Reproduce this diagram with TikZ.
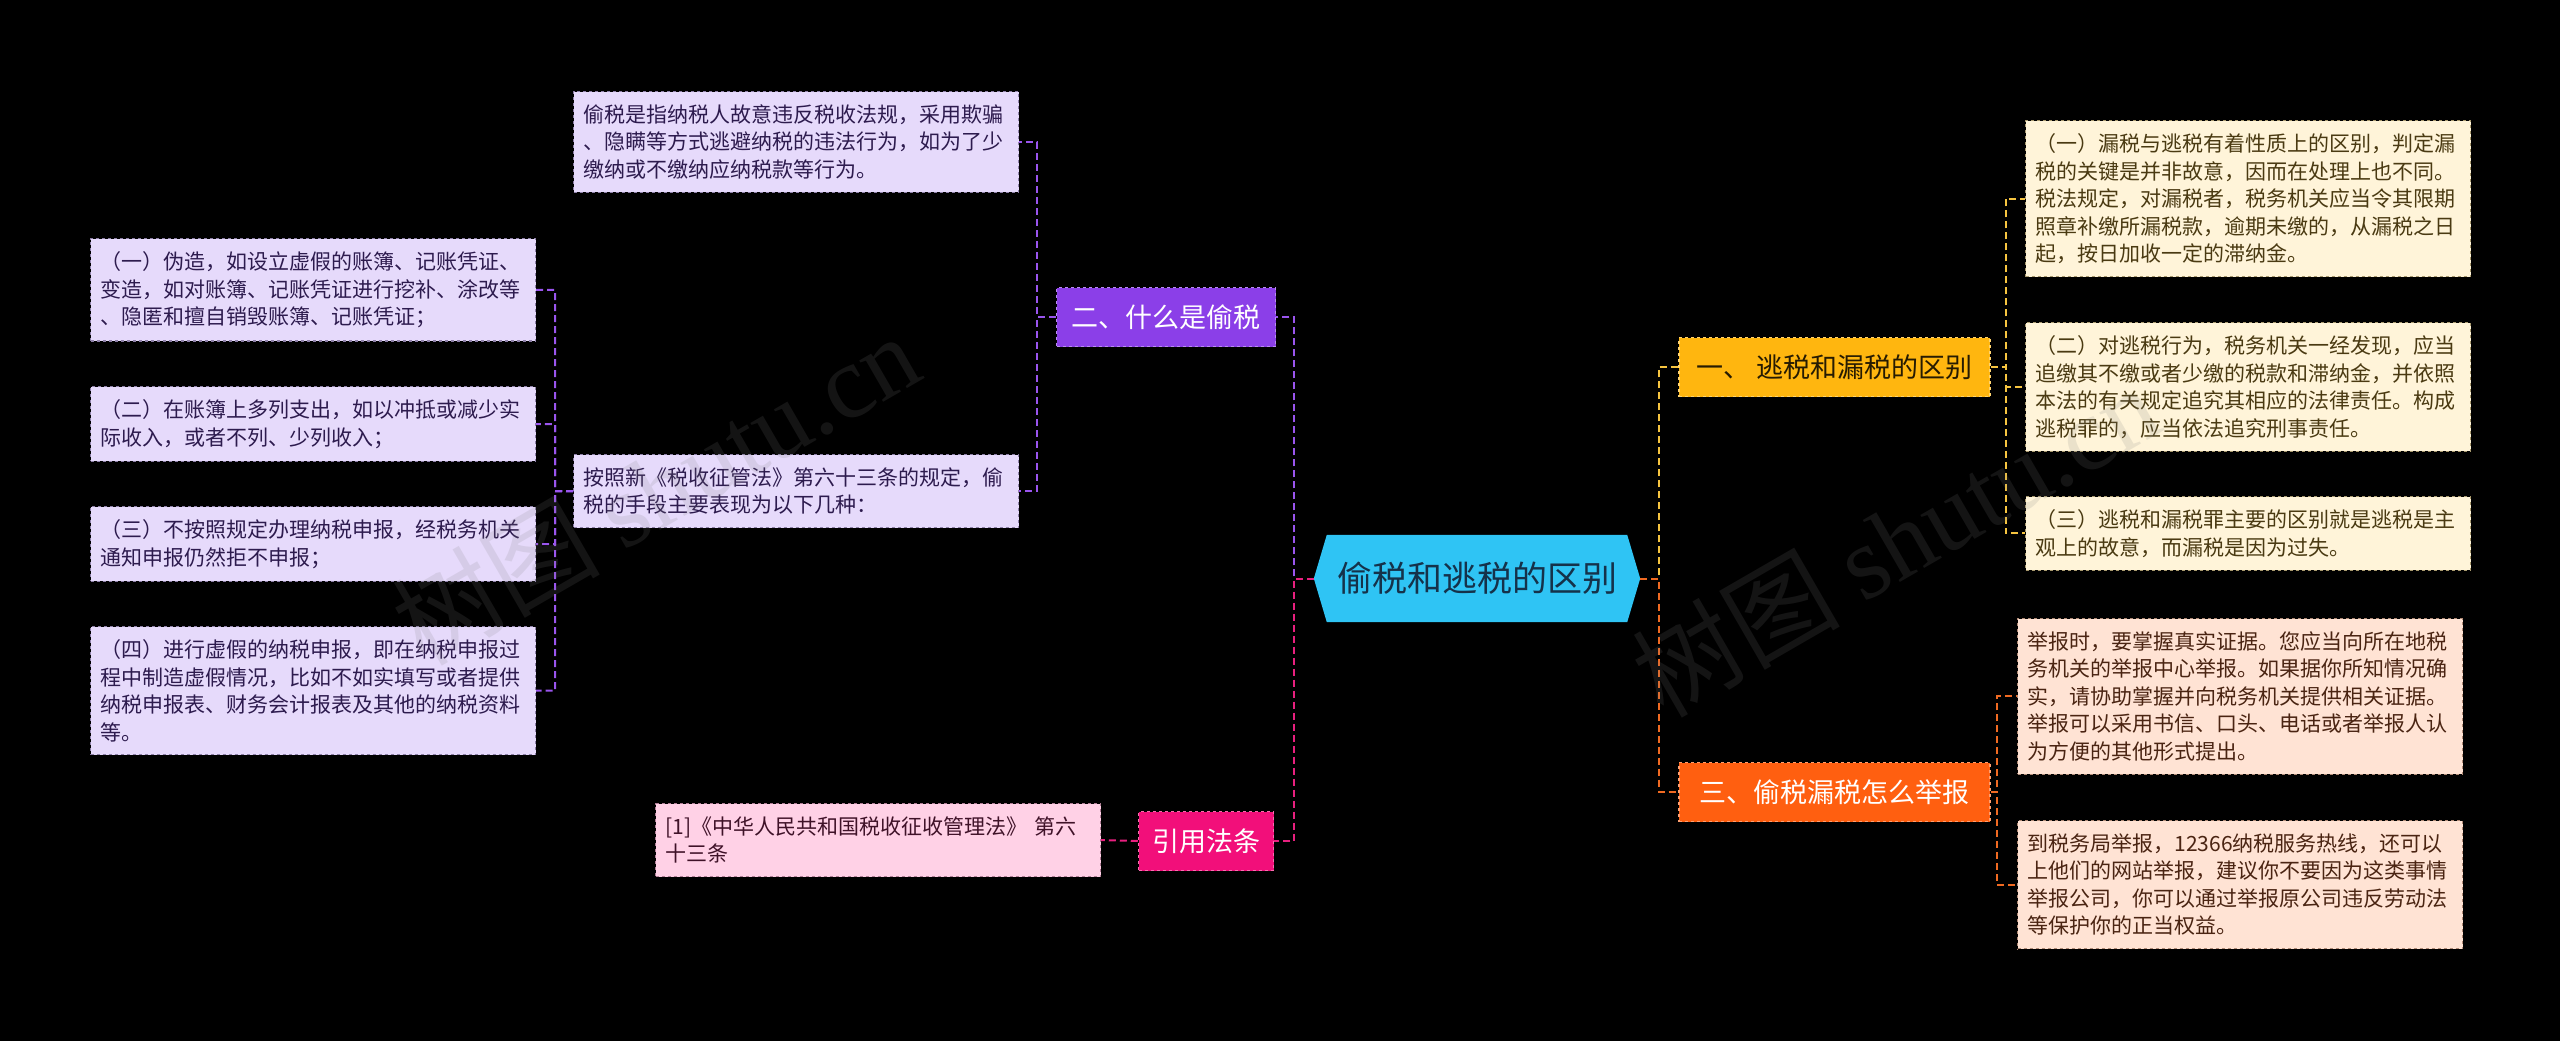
\documentclass[tikz,border=0pt]{standalone}
\usepackage{fontspec}
\setmainfont{Noto Sans CJK SC}
\newfontfamily\wmlatin{Liberation Serif}
\usetikzlibrary{backgrounds}
\definecolor{centC}{HTML}{2FC4F4}
\definecolor{centT}{HTML}{15324A}
\definecolor{purC}{HTML}{8B3FE8}
\definecolor{pinkC}{HTML}{F20F7A}
\definecolor{yelC}{HTML}{FFB60F}
\definecolor{oraC}{HTML}{FF5F10}
\definecolor{purL}{HTML}{9A55EE}
\definecolor{pinkL}{HTML}{E8207F}
\definecolor{yelL}{HTML}{F6C440}
\definecolor{oraL}{HTML}{F06A22}
\definecolor{lavF}{HTML}{E6DAFB}
\definecolor{lavD}{HTML}{8E80A8}
\definecolor{lavT}{HTML}{2D1B4E}
\definecolor{creF}{HTML}{FFF4D9}
\definecolor{creD}{HTML}{A8996E}
\definecolor{creT}{HTML}{4A3A12}
\definecolor{peaF}{HTML}{FFE3D4}
\definecolor{peaD}{HTML}{B08A76}
\definecolor{peaT}{HTML}{4A2412}
\definecolor{pnkF}{HTML}{FFD1E6}
\definecolor{pnkD}{HTML}{B07E96}
\definecolor{pnkT}{HTML}{3F1228}
\tikzset{
  leafbox/.style={dashed, line width=1.2pt, text width=425pt, inner xsep=10pt, inner ysep=13pt,
    align=left, anchor=north west, font=\fontsize{21pt}{27.5pt}\selectfont},
  lavleaf/.style={leafbox, fill=lavF, draw=lavD, text=lavT},
  creleaf/.style={leafbox, fill=creF, draw=creD, text=creT},
  pealeaf/.style={leafbox, fill=peaF, draw=peaD, text=peaT},
  pnkleaf/.style={leafbox, fill=pnkF, draw=pnkD, text=pnkT},
  branchbox/.style={dashed, line width=1.5pt, inner sep=0pt, minimum height=59pt,
    font=\fontsize{27pt}{30pt}\selectfont},
  link/.style={dash pattern=on 7pt off 4pt, line width=2pt},
  wm/.style={text=gray, opacity=0.16, font=\fontsize{104pt}{110pt}\selectfont, rotate=30}
}
\begin{document}
\begin{tikzpicture}[x=1pt,y=-1pt]
\useasboundingbox (0,0) rectangle (2560,1041);

% central node
\node[minimum width=326pt, minimum height=87pt, inner sep=0pt,
      font=\fontsize{35pt}{40pt}\selectfont, text=centT] (c) at (1477,578.5) {偷税和逃税的区别};

\begin{scope}[on background layer]
  \fill[black] (0,0) rectangle (2560,1041);
  \fill[centC] ([xshift=13pt]c.north west) -- ([xshift=-13pt]c.north east) -- (c.east)
     -- ([xshift=-13pt]c.south east) -- ([xshift=13pt]c.south west) -- (c.west) -- cycle;
\end{scope}

% branch labels
\node[branchbox, fill=purC, draw=purC!60!white, text=white, minimum width=219pt] (lp) at (1166,317) {二、什么是偷税};
\node[branchbox, fill=pinkC, draw=pinkC!60!white, text=white, minimum width=135pt] (rl) at (1206,841) {引用法条};
\node[branchbox, fill=yelC, draw=yelC!60!white, text=black!85!yelC, minimum width=311pt] (yl) at (1834.5,367) {一、 逃税和漏税的区别};
\node[branchbox, fill=oraC, draw=oraC!60!white, text=white, minimum width=311pt] (ol) at (1834.5,792) {三、偷税漏税怎么举报};

% left leaves
\node[lavleaf] (L1) at (573,91) {偷税是指纳税人故意违反税收法规，采用欺骗\\、隐瞒等方式逃避纳税的违法行为，如为了少\\缴纳或不缴纳应纳税款等行为。};
\node[lavleaf] (L2) at (573,454) {按照新《税收征管法》第六十三条的规定，偷\\税的手段主要表现为以下几种：};
\node[lavleaf] (P1) at (90,238) {（一）伪造，如设立虚假的账簿、记账凭证、\\变造，如对账簿、记账凭证进行挖补、涂改等\\、隐匿和擅自销毁账簿、记账凭证；};
\node[lavleaf] (P2) at (90,386) {（二）在账簿上多列支出，如以冲抵或减少实\\际收入，或者不列、少列收入；};
\node[lavleaf] (P3) at (90,506) {（三）不按照规定办理纳税申报，经税务机关\\通知申报仍然拒不申报；};
\node[lavleaf] (P4) at (90,626) {（四）进行虚假的纳税申报，即在纳税申报过\\程中制造虚假情况，比如不如实填写或者提供\\纳税申报表、财务会计报表及其他的纳税资料\\等。};
\node[pnkleaf] (R1) at (655,803) {[1]《中华人民共和国税收征收管理法》 第六\\十三条};

% right leaves
\node[creleaf] (Y1) at (2025,120) {（一）漏税与逃税有着性质上的区别，判定漏\\税的关键是并非故意，因而在处理上也不同。\\税法规定，对漏税者，税务机关应当令其限期\\照章补缴所漏税款，逾期未缴的，从漏税之日\\起，按日加收一定的滞纳金。};
\node[creleaf] (Y2) at (2025,322) {（二）对逃税行为，税务机关一经发现，应当\\追缴其不缴或者少缴的税款和滞纳金，并依照\\本法的有关规定追究其相应的法律责任。构成\\逃税罪的，应当依法追究刑事责任。};
\node[creleaf] (Y3) at (2025,496) {（三）逃税和漏税罪主要的区别就是逃税是主\\观上的故意，而漏税是因为过失。};
\node[pealeaf] (O1) at (2017,618) {举报时，要掌握真实证据。您应当向所在地税\\务机关的举报中心举报。如果据你所知情况确\\实，请协助掌握并向税务机关提供相关证据。\\举报可以采用书信、口头、电话或者举报人认\\为方便的其他形式提出。};
\node[pealeaf] (O2) at (2017,820) {到税务局举报，12366纳税服务热线，还可以\\上他们的网站举报，建议你不要因为这类事情\\举报公司，你可以通过举报原公司违反劳动法\\等保护你的正当权益。};

% bus coordinates
\coordinate (bl) at (1294,578.5);
\coordinate (br) at (1659,578.5);
\coordinate (pb) at (1037,317);
\coordinate (qb) at (555,491);
\coordinate (yb) at (2006,367);
\coordinate (ob) at (1997,792);

% connectors
\draw[link, purL] (c.west) -- (bl) |- (lp.east);
\draw[link, pinkL] (c.west) -- (bl) |- (rl.east);
\draw[link, yelL] (c.east) -- (br) |- (yl.west);
\draw[link, oraL] (c.east) -- (br) |- (ol.west);

\draw[link, purL] (lp.west) -- (pb) |- (L1.east);
\draw[link, purL] (lp.west) -- (pb) |- (L2.east);
\draw[link, purL] (L2.west) -- (qb) |- (P1.east);
\draw[link, purL] (L2.west) -- (qb) |- (P2.east);
\draw[link, purL] (L2.west) -- (qb) |- (P3.east);
\draw[link, purL] (L2.west) -- (qb) |- (P4.east);
\draw[link, pinkL] (rl.west) -- (R1.east);

\draw[link, yelL] (yl.east) -- (yb) |- (Y1.west);
\draw[link, yelL] (yl.east) -- (yb) |- (Y2.west);
\draw[link, yelL] (yl.east) -- (yb) |- (Y3.west);
\draw[link, oraL] (ol.east) -- (ob) |- (O1.west);
\draw[link, oraL] (ol.east) -- (ob) |- (O2.west);

% watermarks
\node[wm] (wm1) at (655,488) {树图 {\wmlatin shutu.cn}};
\node[wm] (wm2) at (1895,540) {树图 {\wmlatin shutu.cn}};
\end{tikzpicture}
\end{document}
